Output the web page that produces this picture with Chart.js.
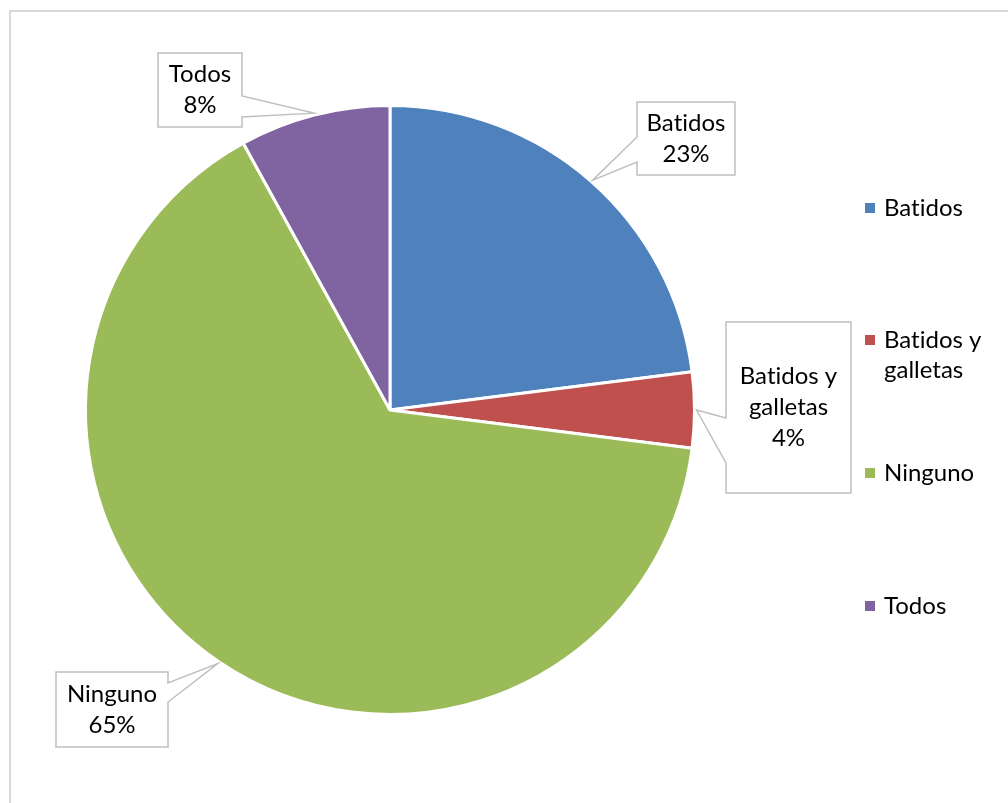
<!DOCTYPE html>
<html>
<head>
<meta charset="utf-8">
<script src="https://cdn.jsdelivr.net/npm/chart.js@4.4.0/dist/chart.umd.min.js"></script>
<style>
  html, body { margin: 0; padding: 0; background: #ffffff; }
  #wrap { position: relative; width: 1008px; height: 803px; }
  #frame {
    position: absolute; left: 9px; top: 10px; width: 1010px; height: 810px;
    border: 2px solid #d9d9d9; box-sizing: border-box;
  }
  canvas { position: absolute; left: 0; top: 0; }
</style>
</head>
<body>
<div id="wrap">
  <div id="frame"></div>
  <canvas id="pieChart" width="1008" height="803"></canvas>
</div>
<script>
/* ============================
   DATA
   ============================ */

const categories = ["Batidos", "Batidos y galletas", "Ninguno", "Todos"];
const legendLabels = [["Batidos"], ["Batidos y", "galletas"], ["Ninguno"], ["Todos"]];
const calloutLabels = [["Batidos", "23%"], ["Batidos y", "galletas", "4%"], ["Ninguno", "65%"], ["Todos", "8%"]];
const shares = [23, 4, 65, 8];
const colors = ["#4f81bd", "#c0504d", "#9bbb59", "#8064a2"];

const FONT = "24px Lato, 'Open Sans', sans-serif";

/* ============================
   CALLOUT LAYOUT
   box: x, y, w, h   notch: side + top/bottom of the wedge base
   ============================ */

const callouts = [
  { box: [637, 102, 98, 73],  side: "left",  notch: [137, 162] },
  { box: [726, 322, 125, 171], side: "left", notch: [418, 463] },
  { box: [56, 672, 112, 75],  side: "right", notch: [683, 702] },
  { box: [158, 53, 84, 74],   side: "right", notch: [96, 117] }
];

const legendRows = [208, 340, 473, 606];

function calloutPath(ctx, c, tip) {
  const [x, y, w, h] = c.box;
  const [n1, n2] = c.notch;
  ctx.beginPath();
  ctx.moveTo(x, y);
  ctx.lineTo(x + w, y);
  if (c.side === "right") {
    ctx.lineTo(x + w, n1);
    ctx.lineTo(tip.x, tip.y);
    ctx.lineTo(x + w, n2);
  }
  ctx.lineTo(x + w, y + h);
  ctx.lineTo(x, y + h);
  if (c.side === "left") {
    ctx.lineTo(x, n2);
    ctx.lineTo(tip.x, tip.y);
    ctx.lineTo(x, n1);
  }
  ctx.closePath();
}

// zero-width non-joiner keeps Lato from merging "ti" into a ligature
const noLig = t => t.replace(/ti/g, "t\u200Ci");

/* ============================
   PLUGINS: callout labels + legend
   ============================ */

const calloutPlugin = {
  id: "callouts",
  afterDatasetsDraw(chart) {
    const ctx = chart.ctx;
    const arcs = chart.getDatasetMeta(0).data;
    ctx.save();
    arcs.forEach((arc, i) => {
      const mid = (arc.startAngle + arc.endAngle) / 2;
      const r = arc.outerRadius + 2;
      const tip = { x: arc.x + Math.cos(mid) * r, y: arc.y + Math.sin(mid) * r };
      const c = callouts[i];
      calloutPath(ctx, c, tip);
      ctx.fillStyle = "#ffffff";
      ctx.fill();
      ctx.strokeStyle = "#bfbfbf";
      ctx.lineWidth = 1.5;
      ctx.stroke();

      const lines = calloutLabels[i];
      const [x, y, w, h] = c.box;
      const lh = 31;
      const cy = y + h / 2;
      ctx.font = FONT;
      ctx.fillStyle = "#000000";
      ctx.textAlign = "center";
      ctx.textBaseline = "middle";
      lines.forEach((t, k) => {
        ctx.fillText(noLig(t), x + w / 2, cy + (k - (lines.length - 1) / 2) * lh);
      });
    });
    ctx.restore();
  }
};

const legendPlugin = {
  id: "sideLegend",
  afterDraw(chart) {
    const ctx = chart.ctx;
    ctx.save();
    ctx.font = FONT;
    ctx.textAlign = "left";
    ctx.textBaseline = "middle";
    legendLabels.forEach((lines, i) => {
      const y = legendRows[i];
      ctx.fillStyle = colors[i];
      ctx.fillRect(865, y - 5, 10, 10);
      ctx.fillStyle = "#000000";
      lines.forEach((t, k) => ctx.fillText(noLig(t), 884, y + k * 30));
    });
    ctx.restore();
  }
};

/* ============================
   CHART
   ============================ */

const chart = new Chart(document.getElementById("pieChart"), {
  type: "pie",
  data: {
    labels: categories,
    datasets: [{
      data: shares,
      backgroundColor: colors,
      borderColor: "#ffffff",
      borderWidth: 3
    }]
  },
  options: {
    responsive: false,
    animation: false,
    layout: { padding: { left: 84, right: 312, top: 104, bottom: 87 } },
    plugins: {
      legend: { display: false },
      tooltip: { enabled: false }
    }
  },
  plugins: [calloutPlugin, legendPlugin]
});
</script>
</body>
</html>
